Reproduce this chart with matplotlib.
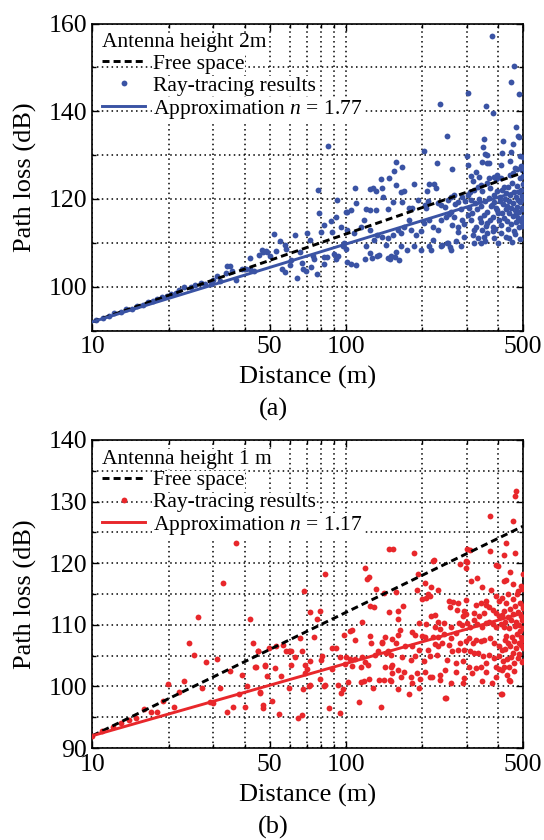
import matplotlib
matplotlib.use('Agg')
import matplotlib.pyplot as plt
from matplotlib.ticker import FixedLocator, NullFormatter, MultipleLocator

plt.rcParams['font.family'] = ['Liberation Serif', 'DejaVu Serif']
plt.rcParams['mathtext.fontset'] = 'custom'
plt.rcParams['mathtext.rm'] = 'Liberation Serif'
plt.rcParams['mathtext.it'] = 'Liberation Serif:italic'

# x axis ticks
x_ticks = [10, 50, 100, 500]
x_minor = [20, 30, 40, 60, 70, 80, 90, 200, 300, 400]

# model lines (end points, straight on log distance)
line_dist = [10, 500]
free_loss = [92.0, 126.0]
approx_a = [92.0, 122.1]
approx_b = [92.0, 111.9]

# (a) antenna height 2 m, ray-tracing points (distance m, path loss dB)
ray_a_near = [
    (10.3, 92.3), (11.0, 92.9), (11.6, 93.3), (12.2, 93.9), (13.0, 94.3), (13.6, 94.8),
    (14.3, 95.0), (15.0, 95.6), (15.8, 95.9), (16.5, 96.4), (17.3, 96.8), (18.0, 97.1),
    (18.8, 97.6), (19.6, 97.8), (20.5, 98.3), (21.3, 98.5), (22.0, 99.3), (23.0, 99.9),
    (24.5, 100.0), (25.5, 100.4), (26.7, 100.9), (27.8, 100.6), (29.3, 100.6), (30.0, 101.5),
    (31.0, 102.5), (32.0, 101.3), (33.5, 103.2), (34.0, 104.8), (35.0, 104.7), (35.5, 103.6),
    (37.0, 101.5), (39.0, 104.0), (40.5, 104.0), (42.0, 104.0), (43.5, 103.6), (41.7, 106.6),
    (45.5, 107.3), (46.5, 108.3), (47.3, 108.0), (48.2, 108.1), (49.0, 107.9), (50.0, 107.1),
]
ray_a_mid = [
    (52.0, 111.9), (53.0, 108.1), (55.0, 110.5), (56.0, 104.0), (57.5, 109.6), (57.5, 103.3),
    (58.0, 108.7), (60.0, 105.0), (61.0, 106.0), (63.0, 111.7), (64.0, 102.0), (66.0, 107.9),
    (67.0, 105.3), (68.0, 104.1), (69.5, 103.5), (70.0, 112.2), (72.0, 110.6), (73.0, 104.5),
    (74.0, 107.0), (75.0, 106.2), (77.0, 103.0), (77.3, 122.0), (78.0, 116.8), (80.0, 112.5),
    (82.0, 114.0), (82.0, 106.8), (82.0, 105.2), (84.0, 106.8), (85.3, 132.0), (87.0, 115.0),
    (88.5, 112.4), (90.0, 107.5), (91.0, 116.0), (91.0, 106.2), (92.0, 119.8), (93.0, 107.1),
    (96.0, 113.5), (97.0, 109.6), (100.0, 117.0), (100.0, 108.5), (101.0, 105.7), (104.6, 105.2),
    (110.0, 105.0), (119.0, 106.2), (127.0, 106.6), (133.0, 107.1), (146.0, 106.5), (149.0, 106.3),
    (156.0, 106.8), (162.0, 106.0), (109.0, 122.5), (125.0, 122.2), (132.0, 121.9), (139.0, 122.4),
    (148.0, 124.7), (158.0, 128.5), (155.0, 126.4), (166.0, 127.2), (185.0, 123.4), (165.0, 121.7),
    (169.0, 121.9), (157.0, 123.1), (140.0, 120.5), (110.0, 119.0), (101.0, 117.1), (105.0, 117.5),
    (120.0, 117.7), (124.0, 117.5), (132.0, 117.5), (146.0, 117.7), (153.0, 119.2), (166.0, 119.4),
    (178.0, 118.0), (183.0, 117.9), (192.0, 119.8), (198.0, 112.6), (189.0, 111.8), (180.0, 113.0),
    (178.0, 115.2), (170.0, 113.7), (165.0, 112.2), (160.0, 113.0), (153.0, 111.8), (146.0, 111.1),
    (139.0, 111.4), (133.0, 111.8), (129.0, 110.7), (125.0, 113.0), (118.0, 115.2), (115.0, 113.7),
    (108.0, 112.2), (101.0, 113.0), (98.0, 109.9), (97.0, 109.2), (120.0, 109.2), (125.0, 107.7),
    (135.0, 107.3), (144.0, 109.5), (150.0, 106.9), (158.0, 108.0), (165.0, 109.2), (175.0, 108.4),
    (186.0, 109.2), (198.0, 108.4), (137.0, 124.6), (128.0, 122.5),
]
ray_a_far = [
    (204.0, 130.9), (205.0, 118.6), (207.0, 117.9), (210.0, 119.5), (213.0, 123.3), (209.0, 121.9),
    (222.0, 123.3), (227.0, 122.4), (228.0, 128.1), (230.0, 119.0), (235.0, 141.7), (250.0, 134.4),
    (262.0, 126.9), (304.0, 127.7), (326.0, 126.2), (311.0, 125.2), (237.0, 118.6), (246.0, 118.1),
    (252.0, 119.8), (259.0, 120.5), (267.0, 120.9), (276.0, 119.4), (286.0, 120.5), (302.0, 120.9),
    (311.0, 119.8), (321.0, 122.0), (331.0, 122.8), (341.0, 123.2), (362.0, 123.6), (367.0, 124.7),
    (385.0, 125.1), (396.0, 125.5), (409.0, 124.7), (421.0, 122.8), (428.0, 121.3), (406.0, 120.5),
    (385.0, 119.4), (373.0, 118.3), (396.0, 117.5), (415.0, 116.7), (403.0, 115.2), (379.0, 113.7),
    (362.0, 114.5), (341.0, 114.8), (346.0, 113.0), (351.0, 111.4), (331.0, 111.1), (321.0, 113.0),
    (311.0, 115.2), (302.0, 116.4), (288.0, 115.2), (276.0, 113.7), (267.0, 116.0), (259.0, 117.1),
    (248.0, 116.0), (237.0, 115.2), (230.0, 113.0), (220.0, 113.7), (213.0, 115.2), (204.0, 114.5),
    (213.0, 109.2), (220.0, 110.7), (237.0, 109.2), (252.0, 109.9), (259.0, 108.4), (284.0, 109.2),
    (293.0, 111.4), (321.0, 109.9), (341.0, 109.9), (362.0, 112.2), (385.0, 111.1), (409.0, 112.2),
    (428.0, 111.4), (217.0, 108.4), (239.0, 109.6), (257.0, 109.0), (351.0, 133.6), (349.0, 131.9),
    (418.0, 133.3), (355.0, 130.2), (362.0, 130.0), (360.0, 128.1), (376.0, 157.2), (459.0, 150.3),
    (450.0, 146.7), (480.0, 144.0), (303.0, 144.2), (357.0, 141.2), (379.0, 139.5), (470.0, 136.5),
    (478.0, 134.3), (483.0, 134.2), (455.0, 132.5), (485.0, 129.7), (412.0, 130.4), (450.0, 130.8),
    (301.0, 129.7), (368.0, 128.2), (345.0, 128.5), (408.0, 127.7), (255.0, 116.5), (262.0, 114.0),
    (270.0, 118.8), (278.0, 112.5), (285.0, 117.6), (292.0, 114.3), (296.0, 119.5), (272.0, 110.5),
    (250.0, 110.0), (305.0, 118.0), (310.0, 121.5), (315.0, 116.8), (318.0, 124.0), (322.0, 119.0),
    (326.0, 113.6), (330.0, 117.8), (334.0, 120.0), (338.0, 115.7), (342.0, 118.5), (346.0, 121.8),
    (350.0, 116.3), (354.0, 119.5), (358.0, 113.8), (362.0, 117.0), (366.0, 120.2), (370.0, 115.3),
    (372.0, 122.4), (376.0, 118.6), (380.0, 116.0), (384.0, 120.8), (388.0, 113.2), (392.0, 118.0),
    (396.0, 121.8), (400.0, 116.8), (404.0, 119.5), (408.0, 114.0), (412.0, 122.0), (416.0, 118.8),
    (420.0, 115.6), (424.0, 120.0), (428.0, 117.8), (318.0, 111.8), (355.0, 110.5), (380.0, 112.8),
    (400.0, 110.0), (335.0, 125.0), (390.0, 124.5), (432.0, 118.5), (434.0, 115.0), (436.0, 122.8),
    (438.0, 113.2), (440.0, 119.6), (442.0, 116.8), (444.0, 125.5), (446.0, 121.0), (448.0, 114.3),
    (450.0, 118.0), (452.0, 110.2), (454.0, 123.6), (456.0, 116.2), (458.0, 119.0), (460.0, 112.8),
    (462.0, 121.5), (464.0, 117.4), (466.0, 127.0), (468.0, 114.8), (470.0, 120.4), (472.0, 118.2),
    (474.0, 123.0), (476.0, 115.6), (478.0, 119.8), (480.0, 113.5), (482.0, 121.6), (484.0, 117.0),
    (486.0, 124.8), (488.0, 119.2), (490.0, 115.0), (492.0, 122.0), (494.0, 118.0), (495.0, 126.5),
    (496.0, 120.6), (497.0, 113.8), (498.0, 117.6), (499.0, 123.5), (500.0, 120.0), (500.0, 116.0),
    (500.0, 125.2), (500.0, 129.6), (440.0, 111.0), (465.0, 112.0), (485.0, 110.8), (458.0, 126.0),
    (445.0, 128.6), (475.0, 126.8), (489.0, 127.5), (498.0, 114.5), (470.0, 116.5),
]

# (b) antenna height 1 m, ray-tracing points
ray_b_near = [
    (10.0, 91.9), (10.9, 92.8), (12.0, 93.4), (12.9, 94.1), (13.9, 94.6), (14.9, 94.9),
    (16.0, 96.4), (17.0, 95.9), (17.9, 95.9), (18.9, 97.7), (19.9, 100.4), (20.9, 96.7),
    (22.0, 99.1), (22.9, 100.8), (24.0, 107.0), (25.1, 105.1), (26.0, 111.2), (27.0, 99.7),
    (28.0, 104.0), (29.0, 97.5), (30.0, 97.3), (31.0, 104.4), (32.0, 99.7), (32.8, 116.8),
    (34.0, 95.8), (35.0, 102.5), (36.0, 96.7), (36.9, 123.2), (37.9, 98.8), (39.0, 101.8),
    (40.0, 96.6), (40.9, 100.0), (41.9, 111.0), (43.0, 107.0), (44.0, 103.1), (45.0, 105.8),
    (46.0, 98.9), (47.0, 97.0), (48.0, 103.5),
]
ray_b_mid = [
    (44.8, 105.8), (48.0, 103.3), (49.7, 106.2), (53.0, 106.5), (56.5, 106.8), (58.0, 105.8),
    (59.5, 105.8), (61.0, 105.8), (63.0, 104.7), (61.0, 103.5), (67.0, 105.8), (69.0, 103.5),
    (70.5, 102.8), (72.5, 104.1), (80.0, 104.3), (80.5, 105.0), (87.8, 106.2), (91.3, 106.2),
    (95.0, 104.8), (100.0, 104.8), (99.5, 103.7), (106.0, 103.3), (154.0, 122.3), (119.0, 119.2),
    (123.0, 117.7), (121.0, 117.5), (83.0, 118.2), (68.3, 115.5), (132.0, 115.8), (142.0, 115.1),
    (124.0, 113.0), (129.0, 112.9), (72.0, 112.0), (79.0, 112.3), (77.0, 111.0), (116.0, 110.4),
    (104.0, 109.0), (106.0, 109.1), (124.0, 108.2), (98.4, 108.3), (108.6, 107.6), (66.0, 107.8),
    (75.0, 108.1), (152.0, 107.7), (139.0, 107.2), (126.0, 107.0), (43.6, 103.2), (46.0, 99.1),
    (52.5, 103.0), (49.0, 101.7), (55.7, 101.7), (59.5, 99.7), (69.0, 102.2), (71.5, 100.0),
    (72.5, 100.3), (68.0, 99.5), (79.0, 101.2), (82.0, 100.0), (83.0, 100.3), (88.0, 102.9),
    (93.0, 100.3), (96.0, 98.9), (102.0, 100.7), (97.6, 99.6), (115.0, 100.7), (118.0, 100.8),
    (123.0, 101.2), (135.0, 101.0), (141.0, 101.1), (128.0, 99.7), (150.0, 100.9), (113.0, 97.4),
    (137.0, 96.6), (47.0, 96.5), (51.0, 97.6), (54.5, 95.6), (67.0, 95.3), (85.6, 96.5),
    (95.0, 95.7), (64.6, 94.9), (103.7, 104.5), (108.5, 104.5), (116.0, 104.8), (115.0, 103.2),
    (119.0, 104.0), (122.5, 103.5), (130.0, 105.1), (134.0, 105.7), (138.5, 107.0), (144.6, 105.4),
    (147.0, 105.8), (151.0, 103.2), (152.5, 102.2),
]
ray_b_far = [
    (372.0, 127.6), (148.0, 122.3), (186.0, 121.6), (223.0, 120.6), (310.0, 122.2), (372.0, 122.0),
    (281.0, 119.8), (300.0, 120.2), (298.0, 119.2), (397.0, 119.6), (193.0, 118.3), (190.0, 115.7),
    (205.0, 116.8), (217.0, 116.2), (232.0, 115.7), (330.0, 117.6), (313.0, 117.1), (420.0, 117.1),
    (345.0, 116.2), (375.0, 115.7), (157.0, 115.3), (210.0, 115.0), (207.0, 114.3), (214.0, 114.7),
    (199.0, 114.2), (148.0, 112.0), (161.0, 110.9), (160.0, 112.3), (168.0, 113.0), (255.0, 113.8),
    (265.0, 113.7), (276.0, 113.6), (297.0, 114.1), (356.0, 113.8), (390.0, 114.6), (402.0, 113.9),
    (415.0, 114.4), (257.0, 112.9), (274.0, 112.4), (292.0, 112.2), (297.0, 111.7), (290.0, 111.4),
    (325.0, 113.2), (340.0, 113.5), (356.0, 113.2), (367.0, 112.9), (379.0, 112.4), (390.0, 111.9),
    (402.0, 111.4), (415.0, 111.6), (421.0, 112.2), (320.0, 111.9), (335.0, 111.4), (350.0, 111.9),
    (193.5, 110.3), (208.0, 110.2), (216.0, 111.4), (224.0, 111.6), (232.0, 110.5), (244.0, 110.3),
    (225.0, 109.7), (236.0, 109.3), (259.0, 109.7), (279.0, 110.3), (288.0, 109.9), (301.0, 110.3),
    (310.0, 109.7), (320.0, 110.8), (330.0, 110.2), (345.0, 109.7), (356.0, 110.3), (367.0, 110.5),
    (379.0, 110.2), (390.0, 109.7), (408.0, 110.2), (421.0, 109.7), (164.0, 109.2), (161.0, 108.4),
    (183.0, 108.9), (188.0, 108.4), (199.0, 108.2), (206.0, 108.0), (221.0, 108.1), (232.0, 108.1),
    (245.0, 108.5), (261.0, 107.8), (271.0, 108.6), (281.0, 107.0), (297.0, 107.3), (306.0, 107.8),
    (316.0, 107.0), (325.0, 107.6), (340.0, 107.3), (351.0, 107.6), (369.0, 107.8), (383.0, 107.0),
    (402.0, 106.5), (415.0, 105.9), (424.0, 107.6), (142.5, 108.1), (158.0, 107.0), (171.0, 106.5),
    (182.0, 106.5), (193.5, 105.9), (211.0, 105.9), (224.0, 106.9), (232.0, 106.5), (239.0, 107.0),
    (255.0, 106.8), (263.0, 105.7), (276.0, 105.9), (293.0, 105.9), (308.0, 105.7), (320.0, 105.4),
    (333.0, 105.5), (347.0, 104.9), (367.0, 105.1), (383.0, 104.6), (402.0, 104.9), (417.0, 104.1),
    (150.0, 105.1), (166.0, 104.8), (180.0, 104.3), (188.0, 104.9), (203.0, 104.1), (215.0, 104.9),
    (229.0, 105.1), (251.0, 104.3), (271.0, 103.8), (289.0, 104.1), (306.0, 103.2), (325.0, 103.0),
    (356.0, 103.8), (390.0, 103.2), (415.0, 102.7), (142.5, 103.2), (152.0, 103.4), (161.0, 102.7),
    (170.0, 102.4), (180.0, 101.6), (191.0, 102.2), (206.0, 102.4), (219.0, 101.6), (236.0, 101.9),
    (247.0, 102.7), (273.0, 102.4), (293.0, 101.4), (315.0, 102.2), (340.0, 103.2), (356.0, 102.4),
    (390.0, 101.6), (421.0, 103.2), (149.0, 101.1), (165.0, 101.5), (182.0, 100.5), (196.0, 101.2),
    (215.0, 101.5), (236.0, 101.1), (259.0, 100.5), (290.0, 100.5), (343.0, 100.8), (376.0, 100.5),
    (161.0, 99.5), (177.0, 98.8), (195.0, 99.7), (249.0, 98.1), (415.0, 98.8), (246.0, 98.2),
    (300.0, 122.3), (297.0, 120.4), (221.0, 120.4), (470.0, 131.8), (467.0, 130.9), (455.0, 126.9),
    (430.0, 123.3), (467.0, 121.7), (420.0, 121.4), (445.0, 118.5), (392.0, 119.7), (428.0, 117.3),
    (455.0, 116.7), (476.0, 115.5), (490.0, 116.3), (410.0, 98.8), (440.0, 101.0), (403.0, 102.9),
    (425.0, 110.5), (425.0, 106.0), (428.0, 113.5), (430.0, 108.2), (432.0, 104.5), (435.0, 111.2),
    (436.0, 107.0), (438.0, 115.0), (440.0, 103.2), (442.0, 109.5), (445.0, 112.5), (446.0, 106.5),
    (448.0, 104.8), (450.0, 110.8), (452.0, 108.0), (455.0, 114.2), (456.0, 105.5), (458.0, 111.8),
    (460.0, 107.3), (462.0, 103.8), (465.0, 109.8), (466.0, 113.0), (468.0, 106.2), (470.0, 110.5),
    (472.0, 115.0), (474.0, 108.5), (476.0, 104.6), (478.0, 112.0), (480.0, 107.0), (482.0, 110.0),
    (484.0, 105.3), (486.0, 113.6), (488.0, 109.0), (490.0, 106.8), (490.0, 111.5), (492.0, 108.0),
    (494.0, 115.8), (495.0, 104.0), (496.0, 110.8), (497.0, 107.5), (498.0, 112.8), (499.0, 109.5),
    (500.0, 106.3), (500.0, 113.0), (500.0, 118.2), (500.0, 104.2), (433.0, 101.8), (459.0, 102.5),
    (444.0, 100.8),
]

blue = '#3a53a4'
red = '#e8272b'


def draw_panel(ax, points, color, approx, ylim, ymajor, yminor, title, n_text):
    d = [p[0] for p in points]
    pl = [p[1] for p in points]
    ax.plot(d, pl, 'o', color=color, markersize=4.2, markeredgewidth=0,
            label='Ray-tracing results', zorder=3)
    ax.plot(line_dist, free_loss, color='black', lw=2.1, dashes=(2.4, 1.4),
            label='Free space', zorder=4)
    ax.plot(line_dist, approx, color=color, lw=2.1,
            label='Approximation $n$ = ' + n_text, zorder=4)
    # legend order: free space, ray-tracing, approximation
    h, lab = ax.get_legend_handles_labels()
    order = [1, 0, 2]
    leg = ax.legend([h[i] for i in order], [lab[i] for i in order], title=title,
                    loc='upper left', bbox_to_anchor=(0.0, 1.0), alignment='left',
                    frameon=False, fontsize=15.5, title_fontsize=15.5,
                    handlelength=2.0, handletextpad=0.35, labelspacing=0.08,
                    borderaxespad=0.15, borderpad=0.3, markerscale=1.0)
    for t in leg.get_texts() + [leg.get_title()]:
        t.set_bbox(dict(facecolor='white', edgecolor='none', pad=0.5))

    ax.set_xscale('log')
    ax.set_xlim(10, 500)
    ax.set_ylim(*ylim)
    ax.xaxis.set_major_locator(FixedLocator(x_ticks))
    ax.xaxis.set_minor_locator(FixedLocator(x_minor))
    ax.xaxis.set_minor_formatter(NullFormatter())
    ax.set_xticklabels([str(v) for v in x_ticks])
    ax.yaxis.set_major_locator(MultipleLocator(ymajor))
    ax.yaxis.set_minor_locator(MultipleLocator(yminor))
    ax.grid(True, which='both', color='black', linestyle=(0, (1, 2.2)), lw=1.1)
    ax.set_axisbelow(True)
    ax.tick_params(which='both', direction='in', top=True, right=True,
                   labelsize=18.5, width=1.0)
    ax.tick_params(which='major', length=5, pad=4)
    ax.tick_params(which='minor', length=3)
    for s in ax.spines.values():
        s.set_linewidth(1.2)
    ax.set_xlabel('Distance (m)', fontsize=19)
    ax.set_ylabel('Path loss (dB)', fontsize=19)
    ax.xaxis.set_label_coords(0.5, -0.115)
    ax.yaxis.set_label_coords(-0.128, 0.5)


fig = plt.figure(figsize=(5.44, 8.4), dpi=100)
ax1 = fig.add_axes([0.170, 0.6065, 0.7914, 0.3655])
ax2 = fig.add_axes([0.170, 0.1095, 0.7914, 0.3667])

draw_panel(ax1, ray_a_near + ray_a_mid + ray_a_far, blue, approx_a,
           (90, 160), 20, 10, 'Antenna height 2m', '1.77')
draw_panel(ax2, ray_b_near + ray_b_mid + ray_b_far, red, approx_b,
           (90, 140), 10, 5, 'Antenna height 1 m', '1.17')

fig.text(273 / 544, 1 - 409 / 840, '(a)', fontsize=19, ha='center', va='center')
fig.text(273 / 544, 1 - 827 / 840, '(b)', fontsize=19, ha='center', va='center')

fig.savefig('out.png', dpi=100)
